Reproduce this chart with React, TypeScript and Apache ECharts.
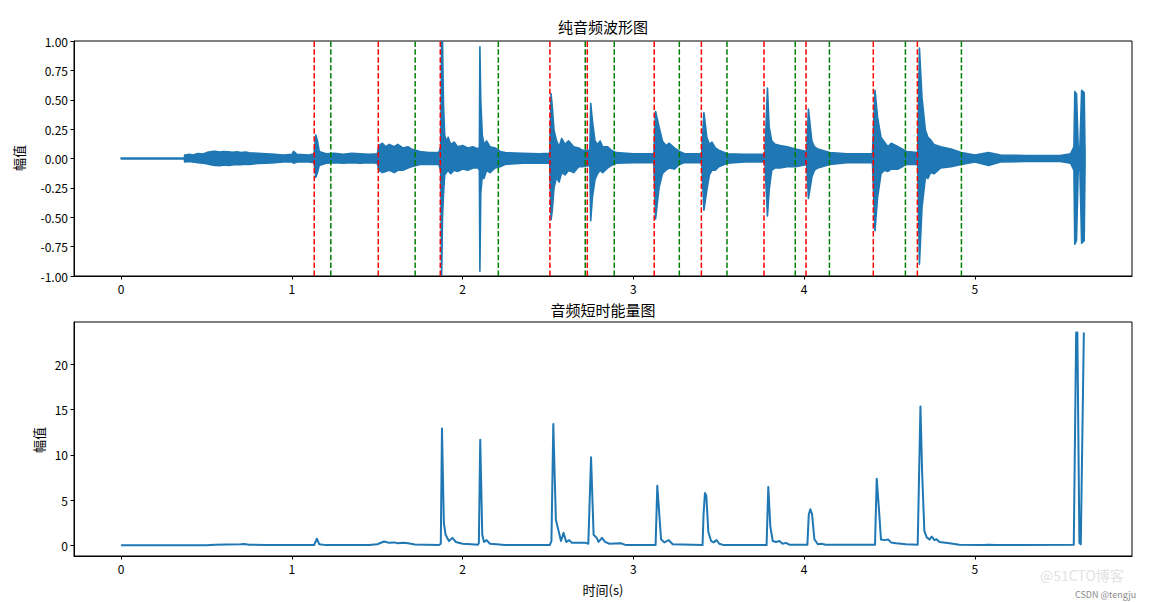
import React, { useEffect, useRef } from "react";
import * as echarts from "echarts";

// ---- waveform envelope: time (s), upper and lower amplitude ----
const waveTimes = [
  0, 0.37, 0.372, 0.4, 0.42, 0.45, 0.48,
  0.5, 0.53, 0.55, 0.58, 0.6, 0.63, 0.65, 0.68, 0.7, 0.73, 0.75,
  0.8, 0.85, 0.9, 0.95, 1.0, 1.01, 1.03, 1.1, 1.13,
  1.14, 1.15, 1.16, 1.2, 1.25, 1.3, 1.35, 1.4, 1.45, 1.5,
  1.51, 1.53, 1.55, 1.57, 1.6, 1.62, 1.65, 1.68, 1.7, 1.75, 1.8, 1.86,
  1.872, 1.877, 1.882, 1.888, 1.895, 1.905, 1.915, 1.93, 1.95, 1.97, 2.0, 2.03, 2.06, 2.09,
  2.098, 2.101, 2.106, 2.115, 2.125, 2.14, 2.16, 2.19, 2.22, 2.25, 2.35, 2.45, 2.51,
  2.518, 2.525, 2.535, 2.55, 2.565, 2.58, 2.6, 2.62, 2.65, 2.68, 2.7, 2.745,
  2.75, 2.76, 2.775, 2.79, 2.805, 2.82, 2.85, 2.87, 2.9, 3.0, 3.12,
  3.13, 3.15, 3.17, 3.19, 3.21, 3.24, 3.27, 3.3, 3.4,
  3.413, 3.43, 3.445, 3.46, 3.48, 3.5, 3.55, 3.65, 3.77,
  3.785, 3.795, 3.81, 3.83, 3.86, 3.9, 3.95, 4.015,
  4.025, 4.045, 4.06, 4.08, 4.15, 4.25, 4.4,
  4.415, 4.43, 4.45, 4.47, 4.49, 4.51, 4.55, 4.6, 4.665,
  4.675, 4.69, 4.71, 4.725, 4.74, 4.76, 4.8, 4.86, 4.92, 5.0, 5.08, 5.15, 5.3, 5.5, 5.56,
  5.58, 5.585, 5.595, 5.605, 5.615, 5.625, 5.64, 5.645,
];
const waveUpper = [
  0.003, 0.003, 0.03, 0.035, 0.03, 0.042, 0.038,
  0.05, 0.06, 0.062, 0.055, 0.06, 0.058, 0.052, 0.058, 0.05, 0.055, 0.048,
  0.045, 0.04, 0.035, 0.03, 0.035, 0.06, 0.035, 0.03, 0.04,
  0.2, 0.15, 0.06, 0.04, 0.045, 0.035, 0.045, 0.04, 0.035, 0.04,
  0.11, 0.13, 0.1, 0.12, 0.1, 0.12, 0.09, 0.1, 0.08, 0.06, 0.05, 0.05,
  0.1, 1.0, 1.0, 0.45, 0.2, 0.14, 0.18, 0.12, 0.14, 0.1, 0.11, 0.09, 0.1, 0.08,
  0.1, 0.95, 0.5, 0.2, 0.12, 0.15, 0.1, 0.09, 0.06, 0.05, 0.045, 0.04, 0.045,
  0.55, 0.44, 0.24, 0.15, 0.1, 0.17, 0.12, 0.15, 0.1, 0.09, 0.07, 0.07,
  0.47, 0.32, 0.15, 0.12, 0.15, 0.1, 0.1, 0.07, 0.05, 0.04, 0.04,
  0.4, 0.27, 0.15, 0.11, 0.13, 0.09, 0.06, 0.04, 0.04,
  0.39, 0.18, 0.12, 0.14, 0.09, 0.07, 0.04, 0.035, 0.035,
  0.6, 0.27, 0.15, 0.12, 0.11, 0.1, 0.08, 0.06,
  0.42, 0.15, 0.1, 0.08, 0.05, 0.04, 0.04,
  0.58, 0.35, 0.18, 0.14, 0.1, 0.13, 0.1, 0.06, 0.05,
  0.94, 0.52, 0.24, 0.18, 0.16, 0.12, 0.1, 0.08, 0.05, 0.03, 0.05, 0.03, 0.025, 0.025, 0.04,
  0.1, 0.57, 0.55, 0.1, 0.1, 0.58, 0.56, 0.05,
];
const waveLower = [
  -0.003, -0.003, -0.03, -0.025, -0.03, -0.035, -0.04,
  -0.045, -0.055, -0.06, -0.062, -0.055, -0.06, -0.055, -0.05, -0.052, -0.048, -0.05,
  -0.042, -0.04, -0.035, -0.03, -0.03, -0.04, -0.03, -0.03, -0.035,
  -0.16, -0.12, -0.06, -0.04, -0.035, -0.04, -0.035, -0.04, -0.035, -0.04,
  -0.1, -0.12, -0.11, -0.1, -0.12, -0.1, -0.1, -0.08, -0.07, -0.05, -0.05, -0.05,
  -0.1, -1.0, -0.5, -0.3, -0.14, -0.12, -0.1, -0.13, -0.1, -0.11, -0.09, -0.1, -0.08, -0.08,
  -0.1, -0.96, -0.3, -0.15, -0.17, -0.1, -0.12, -0.08, -0.07, -0.05, -0.04, -0.04, -0.04,
  -0.52, -0.44, -0.25, -0.16, -0.2, -0.12, -0.14, -0.1, -0.12, -0.07, -0.07, -0.06,
  -0.53, -0.33, -0.18, -0.13, -0.1, -0.12, -0.08, -0.06, -0.04, -0.035, -0.035,
  -0.515, -0.25, -0.13, -0.1, -0.08, -0.09, -0.05, -0.035, -0.035,
  -0.44, -0.27, -0.14, -0.1, -0.1, -0.07, -0.04, -0.03, -0.03,
  -0.49, -0.27, -0.1, -0.08, -0.08, -0.07, -0.07, -0.05,
  -0.34, -0.16, -0.1, -0.08, -0.05, -0.035, -0.035,
  -0.615, -0.33, -0.13, -0.1, -0.11, -0.09, -0.09, -0.05, -0.05,
  -0.9, -0.42, -0.16, -0.17, -0.12, -0.13, -0.08, -0.07, -0.05, -0.03, -0.06, -0.03, -0.025, -0.025, -0.04,
  -0.1, -0.73, -0.7, -0.1, -0.1, -0.72, -0.7, -0.05,
];

// ---- short-time energy ----
const energyTimes = [
  0, 0.5, 0.55, 0.62, 0.7, 0.72, 0.75, 0.85, 1.0, 1.13, 1.146, 1.16, 1.2, 1.45, 1.5, 1.54, 1.57, 1.6, 1.62, 1.65, 1.68, 1.72, 1.86,
  1.872, 1.879, 1.89, 1.9, 1.92, 1.94, 1.96, 2.0, 2.05, 2.09,
  2.095, 2.103, 2.115, 2.125, 2.14, 2.16, 2.25, 2.51,
  2.52, 2.531, 2.546, 2.576, 2.591, 2.607, 2.624, 2.64, 2.72, 2.736,
  2.752, 2.767, 2.785, 2.796, 2.816, 2.834, 2.859, 2.927, 2.957, 3.13,
  3.14, 3.162, 3.181, 3.207, 3.23, 3.405,
  3.411, 3.419, 3.427, 3.439, 3.455, 3.47, 3.487, 3.503, 3.53, 3.78,
  3.79, 3.802, 3.816, 3.835, 3.855, 3.874, 3.894, 3.913, 4.019,
  4.027, 4.036, 4.046, 4.06, 4.08, 4.099, 4.128, 4.415,
  4.425, 4.437, 4.45, 4.47, 4.493, 4.509, 4.538, 4.597, 4.665,
  4.681, 4.691, 4.704, 4.718, 4.734, 4.747, 4.763, 4.776, 4.792, 4.851, 4.909, 5.05, 5.08, 5.12, 5.579,
  5.593, 5.6, 5.612, 5.62, 5.638,
];
const energyValues = [
  0.03, 0.03, 0.08, 0.12, 0.14, 0.17, 0.1, 0.06, 0.05, 0.05, 0.75, 0.15, 0.05, 0.05, 0.15, 0.45, 0.3, 0.35, 0.25, 0.3, 0.25, 0.12, 0.05,
  0.2, 12.9, 2.5, 1.2, 0.5, 0.85, 0.4, 0.2, 0.15, 0.1,
  0.3, 11.67, 1.2, 0.4, 0.6, 0.2, 0.05, 0.05,
  0.5, 13.4, 2.86, 0.5, 1.4, 0.4, 0.6, 0.3, 0.3, 0.2,
  9.73, 1.2, 0.85, 0.4, 0.85, 0.4, 0.2, 0.25, 0.05, 0.05,
  6.6, 0.7, 0.35, 0.6, 0.15, 0.05,
  3.5, 5.8, 5.5, 1.5, 0.5, 0.35, 0.6, 0.2, 0.05, 0.05,
  6.45, 2.1, 0.5, 0.4, 0.5, 0.2, 0.3, 0.1, 0.1,
  3.4, 4.0, 3.5, 0.7, 0.15, 0.2, 0.1, 0.1,
  7.38, 4.3, 0.66, 0.6, 0.66, 0.35, 0.25, 0.15, 0.1,
  15.34, 8.0, 1.6, 0.9, 0.66, 1.0, 0.6, 0.7, 0.4, 0.25, 0.1, 0.05, 0.08, 0.05, 0.1,
  23.5, 23.5, 0.3, 0.15, 23.5,
];

// ---- onset (red) and offset (green) markers ----
const onsetTimes = [1.131, 1.506, 1.869, 2.511, 2.73, 3.122, 3.398, 3.765, 4.011, 4.405, 4.663];
const offsetTimes = [1.228, 1.722, 2.209, 2.718, 2.888, 3.269, 3.548, 3.948, 4.148, 4.593, 4.921];

// ---- ticks ----
const xTicks = [0, 1, 2, 3, 4, 5];
const energyTicks = [0, 5, 10, 15, 20];

const BLUE = "#1f77b4";
const FONT = "'Noto Sans CJK SC', 'Noto Sans', sans-serif";

export default function App() {
  const ref = useRef<HTMLDivElement>(null);

  useEffect(() => {
    if (!ref.current) return;
    const chart = echarts.init(ref.current, null, { renderer: "svg" });

    const axisCommon = {
      axisLine: { show: true, onZero: false, lineStyle: { color: "#000", width: 1 } },
      axisTick: { show: true, inside: false, length: 3.5, lineStyle: { color: "#000", width: 1 } },
      splitLine: { show: false },
      axisLabel: { color: "#000", fontSize: 12, fontFamily: FONT, margin: 6 },
    };

    const xAxisFor = (gridIndex: number) => ({
      type: "value",
      gridIndex,
      min: -0.276,
      max: 5.92,
      ...axisCommon,
      axisTick: { ...axisCommon.axisTick, customValues: xTicks },
      axisLabel: {
        ...axisCommon.axisLabel,
        customValues: xTicks,
        formatter: (v: number) => String(Math.round(v)),
      },
    });

    const vline = (t: number, color: string) => ({
      type: "line",
      xAxisIndex: 0,
      yAxisIndex: 0,
      data: [
        [t, -1],
        [t, 1],
      ],
      symbol: "none",
      silent: true,
      z: 5,
      lineStyle: { color, width: 1.5, type: [5.5, 2.4] },
    });

    const option: any = {
      animation: false,
      backgroundColor: "#fff",
      grid: [
        { left: 74, top: 41, width: 1058, height: 235, show: true, borderColor: "#000", borderWidth: 1, backgroundColor: "transparent" },
        { left: 74, top: 322, width: 1058, height: 234, show: true, borderColor: "#000", borderWidth: 1, backgroundColor: "transparent" },
      ],
      xAxis: [xAxisFor(0), xAxisFor(1)],
      yAxis: [
        {
          type: "value",
          gridIndex: 0,
          min: -1,
          max: 1,
          interval: 0.25,
          ...axisCommon,
          axisLabel: {
            ...axisCommon.axisLabel,
            formatter: (v: number) => v.toFixed(2),
          },
        },
        {
          type: "value",
          gridIndex: 1,
          min: -1.15,
          max: 24.65,
          ...axisCommon,
          axisTick: { ...axisCommon.axisTick, customValues: energyTicks },
          axisLabel: {
            ...axisCommon.axisLabel,
            customValues: energyTicks,
            formatter: (v: number) => String(Math.round(v)),
          },
        },
      ],
      series: [
        {
          type: "custom",
          xAxisIndex: 0,
          yAxisIndex: 0,
          clip: true,
          silent: true,
          z: 2,
          data: [[waveTimes[0], waveUpper[0]]],
          renderItem: (params: any, api: any) => {
            if (params.dataIndex !== 0) return null;
            const pts: number[][] = [];
            for (let i = 0; i < waveTimes.length; i++) pts.push(api.coord([waveTimes[i], waveUpper[i]]));
            for (let i = waveTimes.length - 1; i >= 0; i--) pts.push(api.coord([waveTimes[i], waveLower[i]]));
            return {
              type: "polygon",
              shape: { points: pts },
              style: { fill: BLUE, stroke: BLUE, lineWidth: 1.6, lineJoin: "round" },
            };
          },
        },
        ...onsetTimes.map((t) => vline(t, "#ff0000")),
        ...offsetTimes.map((t) => vline(t, "#008000")),
        {
          type: "line",
          xAxisIndex: 1,
          yAxisIndex: 1,
          data: energyTimes.map((t, i) => [t, energyValues[i]]),
          symbol: "none",
          silent: true,
          clip: true,
          lineStyle: { color: BLUE, width: 2, join: "round" },
        },
      ],
      graphic: [
        { type: "text", x: 603, y: 26, style: { text: "纯音频波形图", fill: "#000", font: `15px ${FONT}`, textAlign: "center", textVerticalAlign: "middle" } },
        { type: "text", x: 603, y: 309, style: { text: "音频短时能量图", fill: "#000", font: `15px ${FONT}`, textAlign: "center", textVerticalAlign: "middle" } },
        { type: "text", x: 603, y: 589, style: { text: "时间(s)", fill: "#000", font: `13px ${FONT}`, textAlign: "center", textVerticalAlign: "middle" } },
        { type: "text", x: 18, y: 158, rotation: Math.PI / 2, style: { text: "幅值", fill: "#000", font: `13px ${FONT}`, textAlign: "center", textVerticalAlign: "middle" } },
        { type: "text", x: 38, y: 440, rotation: Math.PI / 2, style: { text: "幅值", fill: "#000", font: `13px ${FONT}`, textAlign: "center", textVerticalAlign: "middle" } },
        { type: "text", x: 1040, y: 575, style: { text: "@51CTO博客", fill: "#e2e2e2", font: `14px ${FONT}`, textAlign: "left", textVerticalAlign: "middle" } },
        { type: "text", x: 1075, y: 594, style: { text: "CSDN @tengju", fill: "#8a8a8a", font: `9px ${FONT}`, textAlign: "left", textVerticalAlign: "middle" } },
      ],
    };

    chart.setOption(option);
    return () => chart.dispose();
  }, []);

  return <div ref={ref} style={{ position: "absolute", left: 0, top: 0, width: 1154, height: 602, background: "#fff" }} />;
}
